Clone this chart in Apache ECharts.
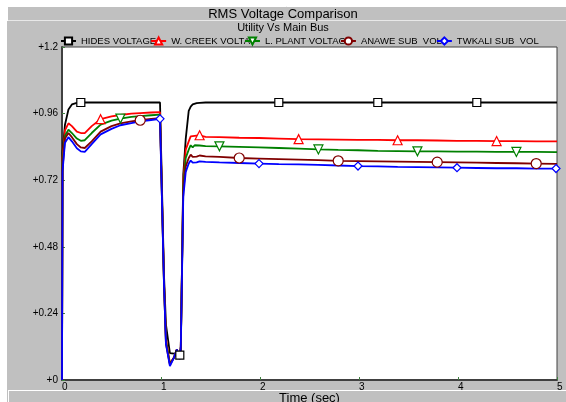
<!DOCTYPE html>
<html>
<head>
<meta charset="utf-8">
<script src="https://cdn.jsdelivr.net/npm/echarts@6/dist/echarts.min.js"></script>
<style>
  html, body { margin: 0; padding: 0; background: #fff; }
  #main { width: 566px; height: 402px; }
</style>
</head>
<body>
<div id="main"></div>
<script>
// time axis (sec), shared by all five curves
var times = [0, 0.005, 0.03, 0.065, 0.1, 0.15, 0.19, 0.23, 0.3, 0.39,
  0.5, 0.59, 0.7, 0.79, 0.9, 0.99, 1.0, 1.03, 1.05, 1.09,
  1.13, 1.16, 1.19, 1.2, 1.225, 1.25, 1.28, 1.3, 1.32, 1.34,
  1.36, 1.39, 1.45, 1.59, 1.79, 1.99, 2.19, 2.39, 2.59, 2.79,
  2.99, 3.19, 3.39, 3.59, 3.79, 3.99, 4.19, 4.39, 4.59, 4.79,
  4.99, 5.0];

var hides = [0, 0.82, 0.92, 0.975, 0.993, 0.999, 1.0, 1.0, 1.0, 1.0,
  1.0, 1.0, 1.0, 1.0, 1.0, 1.0, 1.0, 0.38, 0.2, 0.097,
  0.095, 0.095, 0.09, 0.1, 0.74, 0.87, 0.97, 0.985, 0.993, 0.997,
  0.998, 0.999, 1.0, 1.0, 1.0, 1.0, 1.0, 1.0, 1.0, 1.0,
  1.0, 1.0, 1.0, 1.0, 1.0, 1.0, 1.0, 1.0, 1.0, 1.0,
  1.0, 1.0];

var wCreek = [0, 0.80, 0.90, 0.925, 0.915, 0.895, 0.89, 0.89, 0.915, 0.94,
  0.95, 0.955, 0.96, 0.962, 0.964, 0.965, 0.965, 0.36, 0.15, 0.06,
  0.08, 0.11, 0.08, 0.12, 0.72, 0.83, 0.86, 0.878, 0.872, 0.88,
  0.874, 0.882, 0.876, 0.875, 0.873, 0.872, 0.870, 0.868, 0.867, 0.866,
  0.865, 0.865, 0.864, 0.864, 0.863, 0.862, 0.862, 0.861, 0.861, 0.86,
  0.86, 0.86];

var lPlant = [0, 0.78, 0.88, 0.902, 0.89, 0.87, 0.862, 0.864, 0.89, 0.92,
  0.935, 0.942, 0.948, 0.951, 0.954, 0.956, 0.956, 0.35, 0.14, 0.058,
  0.08, 0.11, 0.08, 0.12, 0.70, 0.80, 0.83, 0.846, 0.838, 0.846,
  0.84, 0.845, 0.843, 0.842, 0.840, 0.838, 0.836, 0.834, 0.831, 0.829,
  0.828, 0.826, 0.825, 0.824, 0.824, 0.823, 0.823, 0.822, 0.822, 0.822,
  0.821, 0.821];

var anawe = [0, 0.76, 0.87, 0.89, 0.875, 0.85, 0.838, 0.836, 0.86, 0.895,
  0.915, 0.925, 0.932, 0.936, 0.941, 0.944, 0.944, 0.35, 0.13, 0.055,
  0.08, 0.11, 0.08, 0.12, 0.68, 0.77, 0.80, 0.812, 0.804, 0.811,
  0.805, 0.809, 0.806, 0.804, 0.800, 0.798, 0.796, 0.794, 0.792, 0.790,
  0.789, 0.788, 0.787, 0.786, 0.785, 0.784, 0.783, 0.782, 0.781, 0.780,
  0.779, 0.779];

var twkali = [0, 0.75, 0.855, 0.875, 0.86, 0.835, 0.824, 0.822, 0.85, 0.885,
  0.905, 0.918, 0.926, 0.932, 0.937, 0.941, 0.941, 0.35, 0.13, 0.05,
  0.08, 0.11, 0.075, 0.12, 0.66, 0.75, 0.78, 0.791, 0.783, 0.79,
  0.784, 0.788, 0.786, 0.784, 0.782, 0.780, 0.778, 0.777, 0.775, 0.773,
  0.771, 0.770, 0.768, 0.767, 0.766, 0.765, 0.764, 0.763, 0.763, 0.762,
  0.762, 0.762];

// times where each curve carries a marker
var hidesMarks = [0.19, 1.19, 2.19, 3.19, 4.19];
var wCreekMarks = [0.39, 1.39, 2.39, 3.39, 4.39];
var lPlantMarks = [0.59, 1.59, 2.59, 3.59, 4.59];
var anaweMarks = [0.79, 1.79, 2.79, 3.79, 4.79];
var twkaliMarks = [0.99, 1.99, 2.99, 3.99, 4.99];

var yTicks = [0, 0.24, 0.48, 0.72, 0.96, 1.2];
var yTickLabels = ['+0', '+0.24', '+0.48', '+0.72', '+0.96', '+1.2'];

var FONT = '"Liberation Sans", Arial, sans-serif';

function buildData(vals, marks) {
  return times.map(function (t, i) {
    if (marks.indexOf(t) >= 0) return [t, vals[i]];
    return { value: [t, vals[i]], symbol: 'none' };
  });
}

function mkSeries(name, vals, marks, color, symbol, size, rotate) {
  return {
    name: name,
    type: 'line',
    data: buildData(vals, marks),
    symbol: symbol,
    symbolSize: size,
    symbolRotate: rotate || 0,
    showSymbol: true,
    smooth: false,
    lineStyle: { color: color, width: 1.8 },
    itemStyle: { color: '#fff', borderColor: color, borderWidth: 1.2 },
    emphasis: { disabled: true }
  };
}

var option = {
  animation: false,
  backgroundColor: '#fff',
  textStyle: { fontFamily: FONT },
  graphic: [
    { type: 'rect', shape: { x: 7, y: 6, width: 559, height: 396 }, style: { fill: '#c0c0c0' }, z: -10 },
    { type: 'line', shape: { x1: 7, y1: 6.5, x2: 566, y2: 6.5 }, style: { stroke: '#fff', lineWidth: 1 }, z: -9 },
    { type: 'line', shape: { x1: 7, y1: 20.5, x2: 566, y2: 20.5 }, style: { stroke: '#e8e8e8', lineWidth: 1 }, z: -9 },
    { type: 'line', shape: { x1: 7.5, y1: 6, x2: 7.5, y2: 21 }, style: { stroke: '#fff', lineWidth: 1 }, z: -9 },
    { type: 'line', shape: { x1: 8, y1: 390.5, x2: 566, y2: 390.5 }, style: { stroke: '#fff', lineWidth: 1 }, z: -9 },
    { type: 'line', shape: { x1: 8.5, y1: 390, x2: 8.5, y2: 402 }, style: { stroke: '#fff', lineWidth: 1 }, z: -9 }
  ],
  title: {
    text: 'RMS Voltage Comparison',
    subtext: 'Utility Vs Main Bus',
    left: 'center',
    top: 8,
    itemGap: 1,
    padding: 0,
    textStyle: { fontFamily: FONT, fontSize: 13, fontWeight: 'normal', color: '#000' },
    subtextStyle: { fontFamily: FONT, fontSize: 11, color: '#000' }
  },
  legend: {
    left: 60,
    top: 36,
    padding: 0,
    itemGap: -6,
    itemWidth: 15,
    itemHeight: 9,
    selectedMode: false,
    textStyle: {
      fontFamily: FONT, fontSize: 9.5, color: '#000',
      width: 84, overflow: 'truncate', ellipsis: ''
    },
    data: ['HIDES VOLTAGE', 'W. CREEK VOLTAGE', 'L. PLANT VOLTAGE', 'ANAWE SUB  VOLTAGE', 'TWKALI SUB  VOLTAGE']
  },
  grid: {
    left: 62, right: 9, top: 47, bottom: 22,
    containLabel: false,
    outerBoundsMode: 'none',
    show: true, backgroundColor: '#fff', borderColor: '#404040', borderWidth: 1
  },
  xAxis: {
    type: 'value',
    min: 0, max: 5, interval: 1,
    name: 'Time (sec)',
    nameLocation: 'middle',
    nameGap: 12,
    nameMoveOverlap: false,
    nameTextStyle: { fontFamily: FONT, fontSize: 13, color: '#000' },
    axisLine: { show: true, lineStyle: { color: '#404040', width: 2 } },
    axisTick: { show: true, inside: true, length: 3, lineStyle: { color: '#408040' } },
    axisLabel: { fontFamily: FONT, fontSize: 10, color: '#000', margin: 2, align: 'left' },
    splitLine: { show: false }
  },
  yAxis: {
    type: 'value',
    min: 0, max: 1.2, interval: 0.24,
    axisLine: { show: true, lineStyle: { color: '#404040', width: 2 } },
    axisTick: { show: true, inside: true, length: 3, lineStyle: { color: '#408040' } },
    axisLabel: {
      fontFamily: FONT, fontSize: 10, color: '#000', margin: 4,
      formatter: function (v) {
        var i = yTicks.findIndex(function (t) { return Math.abs(t - v) < 1e-6; });
        return i >= 0 ? yTickLabels[i] : '';
      }
    },
    splitLine: { show: false }
  },
  series: [
    mkSeries('HIDES VOLTAGE', hides, hidesMarks, '#000000', 'rect', 8),
    mkSeries('W. CREEK VOLTAGE', wCreek, wCreekMarks, '#ff0000', 'triangle', 9),
    mkSeries('L. PLANT VOLTAGE', lPlant, lPlantMarks, '#008000', 'triangle', 9, 180),
    mkSeries('ANAWE SUB  VOLTAGE', anawe, anaweMarks, '#800000', 'circle', 10),
    mkSeries('TWKALI SUB  VOLTAGE', twkali, twkaliMarks, '#0000ff', 'diamond', 8)
  ]
};

var chart = echarts.init(document.getElementById('main'), null, { renderer: 'canvas' });
chart.setOption(option);
</script>
</body>
</html>
